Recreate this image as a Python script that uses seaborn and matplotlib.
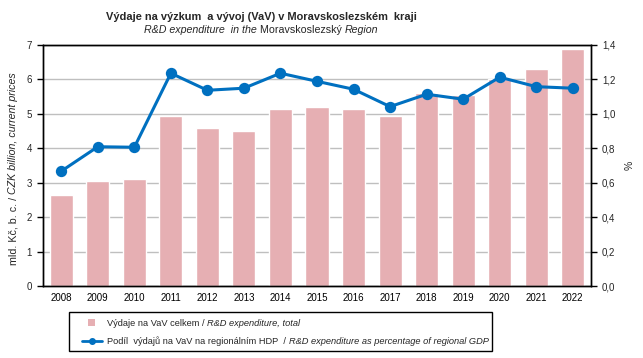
import matplotlib
matplotlib.use("Agg")
import matplotlib.pyplot as plt
import matplotlib.transforms as mtransforms
import seaborn as sns
import pandas as pd
from matplotlib.ticker import MultipleLocator, FuncFormatter, FixedLocator
from matplotlib.patches import Rectangle
from matplotlib.lines import Line2D

years = ["2008", "2009", "2010", "2011", "2012", "2013", "2014", "2015",
         "2016", "2017", "2018", "2019", "2020", "2021", "2022"]
expenditure = [2.64, 3.05, 3.11, 4.94, 4.59, 4.51, 5.14, 5.20,
               5.14, 4.94, 5.61, 5.55, 6.01, 6.31, 6.89]
share_gdp = [0.667, 0.809, 0.806, 1.236, 1.137, 1.149, 1.236, 1.189,
             1.143, 1.042, 1.114, 1.085, 1.213, 1.158, 1.149]

bar_color = "#E6AFB3"
line_color = "#0070C0"

sns.set_theme(style="white")
plt.rcParams['font.family'] = ['Liberation Sans', 'DejaVu Sans']

df = pd.DataFrame({"year": years, "exp": expenditure, "share": share_gdp})

W, H = 643, 358
fig = plt.figure(figsize=(W / 100, H / 100), dpi=100)
px = mtransforms.Affine2D().scale(1 / W, -1 / H).translate(0, 1) + fig.transFigure

ax = fig.add_axes([43 / W, 1 - 286 / H, (591 - 43) / W, (286 - 45) / H])

sns.barplot(data=df, x="year", y="exp", ax=ax, color=bar_color, width=0.63,
            saturation=1, zorder=2)
ax.set_ylim(0, 7)
ax.set_xlim(-0.5, 14.5)
ax.yaxis.set_major_locator(MultipleLocator(1))
ax.grid(axis="y", color="#BFBFBF", linewidth=1, zorder=0)
ax.set_axisbelow(True)
ax.set_xlabel("")
ax.set_ylabel("")
for s in ax.spines.values():
    s.set_color("black")
    s.set_linewidth(1)

ax.tick_params(axis="x", which="major", length=0, labelsize=7, pad=5, colors="black")
ax.xaxis.set_minor_locator(FixedLocator([i + 0.5 for i in range(-1, 15)]))
ax.tick_params(axis="x", which="minor", length=4, width=1, color="black", direction="out")
ax.tick_params(axis="y", length=4, width=1, labelsize=7, color="black", direction="out",
               left=True, pad=4)

ax2 = ax.twinx()
sns.pointplot(data=df, x="year", y="share", ax=ax2, color=line_color,
              markers="o", markersize=6.5, linewidth=2.2, zorder=5)
ax2.set_ylim(0, 1.4)
ax2.set_xlim(-0.5, 14.5)
ax2.yaxis.set_major_locator(MultipleLocator(0.2))
ax2.yaxis.set_major_formatter(FuncFormatter(lambda v, p: f"{v:.1f}".replace(".", ",")))
ax2.tick_params(axis="y", length=4, width=1, labelsize=7, color="black", direction="out",
                right=True, pad=4)
ax2.set_ylabel("")
ax2.set_xlabel("")
ax2.grid(False)
for s in ax2.spines.values():
    s.set_color("black")
    s.set_linewidth(1)

renderer = fig.canvas.get_renderer()


def segments(x, y, parts, size, anchor="center", rotation=0):
    """Draw mixed-style text pieces in pixel coords (from top-left)."""
    texts = []
    total = 0
    for txt, style, weight in parts:
        t = fig.text(0, 0, txt, transform=px, fontsize=size, fontstyle=style,
                     fontweight=weight, rotation=rotation,
                     ha="left", va="baseline" if rotation == 0 else "center",
                     rotation_mode="anchor")
        ext = t.get_window_extent(renderer)
        w = ext.width if rotation == 0 else ext.height
        texts.append((t, w))
        total += w
    start = x - total / 2 if anchor == "center" else x
    if rotation == 0:
        cur = start
        for t, w in texts:
            t.set_position((cur, y))
            cur += w
    else:
        cur = y + total / 2
        for t, w in texts:
            t.set_position((x, cur))
            cur -= w
    return total


segments(261, 20, [("Výdaje na výzkum  a vývoj (VaV) v Moravskoslezském  kraji", "normal", "bold")], 7.9)
segments(261, 33, [("R&D expenditure  in the ", "italic", "normal"),
                   ("Moravskoslezský ", "normal", "normal"),
                   ("Region", "italic", "normal")], 7.7)

segments(13, 169, [("mld. Kč, b. c. / ", "normal", "normal"),
                   ("CZK billion, current prices", "italic", "normal")], 7.7, rotation=90)
fig.text(630, 165, "%", transform=px, fontsize=7.5, rotation=90, ha="center", va="center")

# legend
fig.patches.append(Rectangle((69, 312), 492 - 69, 351 - 312, transform=px,
                             facecolor="white", edgecolor="black", linewidth=1))
fig.patches.append(Rectangle((88, 319), 7, 7, transform=px, facecolor=bar_color,
                             edgecolor="none"))
fig.lines.append(Line2D([82, 102], [341, 341], transform=px, color=line_color,
                        linewidth=2))
fig.lines.append(Line2D([92], [341], transform=px, color=line_color, marker="o",
                        markersize=4, linestyle="none"))
segments(107, 326, [("Výdaje na VaV celkem / ", "normal", "normal"),
                    ("R&D expenditure, total", "italic", "normal")], 6.7, anchor="left")
segments(107, 344, [("Podíl  výdajů na VaV na regionálním HDP  / ", "normal", "normal"),
                    ("R&D expenditure as percentage of regional GDP", "italic", "normal")],
         6.65, anchor="left")

fig.savefig("out.png", dpi=100)
